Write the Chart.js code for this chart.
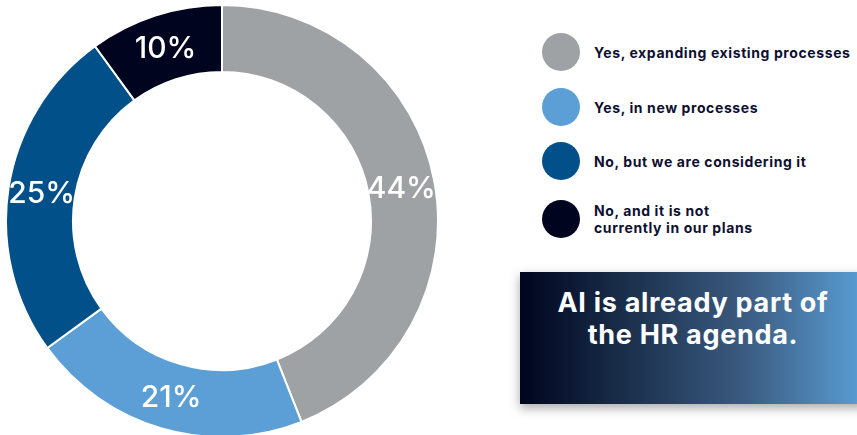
<!DOCTYPE html>
<html>
<head>
<meta charset="utf-8">
<script src="https://cdn.jsdelivr.net/npm/chart.js@4.4.1/dist/chart.umd.min.js"></script>
<style>
    html, body { margin: 0; padding: 0; width: 857px; height: 435px; overflow: hidden; background: #fff; }
    body { position: relative; font-family: Inter, "DejaVu Sans", sans-serif; }
    #chartWrap { position: absolute; left: 5px; top: 4px; width: 434px; height: 434px; }
    #legend { position: absolute; left: 542px; top: 33px; margin: 0; padding: 0; list-style: none; }
    #legend li { position: absolute; left: 0; display: flex; align-items: center; width: 330px; }
    #legend .dot { width: 38px; height: 38px; border-radius: 50%; flex: none; }
    #legend .txt { margin-left: 14px; font-size: 14px; font-weight: 700; color: #0e1030; line-height: 17px; letter-spacing: 0.6px; white-space: nowrap; }
    #callout {
        position: absolute; left: 520px; top: 272px; width: 346px; height: 132px;
        background: linear-gradient(to right, #00041e 0%, #1e3552 35%, #3b5b80 65%, #5b9fd6 100%);
        box-shadow: 0 4px 10px rgba(0, 0, 0, 0.35);
        color: #fff; font-weight: 700; font-size: 27px; line-height: 32px; letter-spacing: 0.7px; text-align: center;
        box-sizing: border-box; padding-top: 15px;
    }
</style>
</head>
<body>
<div id="chartWrap"><canvas id="aiChart"></canvas></div>
<ul id="legend"></ul>
<div id="callout">AI is already part of<br>the HR agenda.</div>

<script>
const labels = [
    'Yes, expanding existing processes',
    'Yes, in new processes',
    'No, but we are considering it',
    'No, and it is not\ncurrently in our plans'
];
const shares = [44, 21, 25, 10];
const colors = ['#9fa2a5', '#5b9fd6', '#02508a', '#01041f'];
const legendRows = [52, 107, 161, 219];

// white percentage text drawn in the middle of each slice
const sliceLabelPlugin = {
    id: 'sliceLabelPlugin',
    afterDatasetsDraw: chart => {
        const ctx = chart.ctx;
        const meta = chart.getDatasetMeta(0);
        ctx.save();
        ctx.fillStyle = '#ffffff';
        ctx.font = '500 30px Inter, "DejaVu Sans", sans-serif';
        ctx.textAlign = 'center';
        ctx.textBaseline = 'middle';
        meta.data.forEach((arc, i) => {
            const pos = arc.tooltipPosition();
            ctx.fillText(shares[i] + '%', pos.x, pos.y + 2);
        });
        ctx.restore();
    }
};

const aiChart = new Chart(document.getElementById('aiChart').getContext('2d'), {
    type: 'doughnut',
    plugins: [sliceLabelPlugin],
    data: {
        labels: labels,
        datasets: [{
            data: shares,
            backgroundColor: colors,
            borderColor: '#ffffff',
            borderWidth: 2
        }]
    },
    options: {
        animation: false,
        responsive: true,
        maintainAspectRatio: false,
        cutout: '69%',
        layout: { padding: 0 },
        plugins: {
            legend: { display: false },
            tooltip: { enabled: false }
        }
    }
});

const legendEl = document.getElementById('legend');
labels.forEach((label, i) => {
    const li = document.createElement('li');
    li.style.top = (legendRows[i] - 33 - 19) + 'px';
    const dot = document.createElement('span');
    dot.className = 'dot';
    dot.style.backgroundColor = colors[i];
    const txt = document.createElement('span');
    txt.className = 'txt';
    txt.innerHTML = label.replace('\n', '<br>');
    li.appendChild(dot);
    li.appendChild(txt);
    legendEl.appendChild(li);
});
</script>
</body>
</html>
